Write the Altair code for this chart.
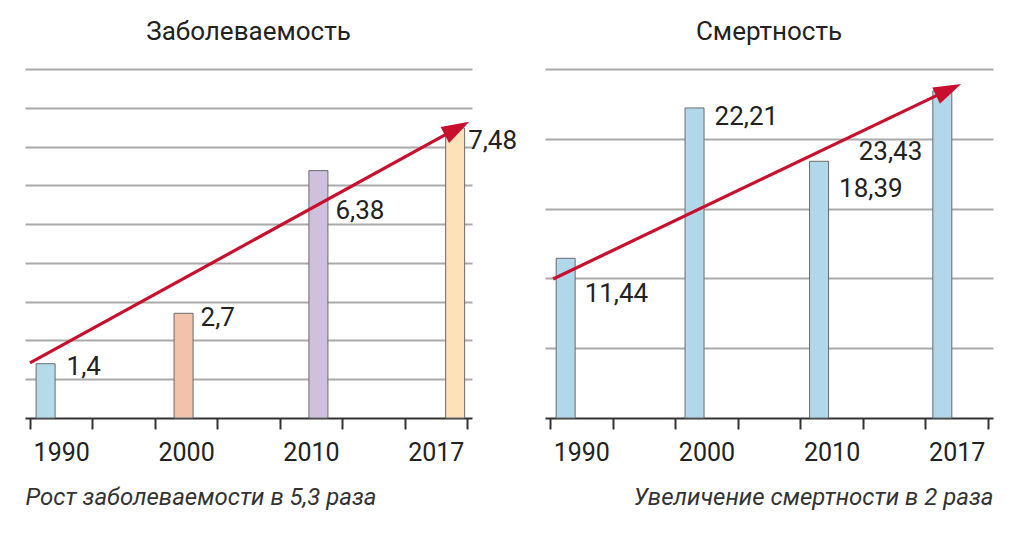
import math

import pandas as pd
import altair as alt

years = ["1990", "2000", "2010", "2017"]

# Заболеваемость
incidence = [1.4, 2.7, 6.38, 7.48]
incidence_slot = [0.25, 2.46, 4.62, 6.81]
incidence_colors = ["#b5dbeb", "#f2c3aa", "#cfc1dd", "#fde1b8"]
incidence_trend_slot = [0.0, 6.83]
incidence_trend = [1.42, 7.46]

# Смертность
mortality = [11.44, 22.21, 18.39, 23.43]
mortality_slot = [0.25, 2.31, 4.30, 6.27]
mortality_colors = ["#b0d8ea", "#b0d8ea", "#b0d8ea", "#b0d8ea"]
mortality_trend_slot = [0.05, 6.36]
mortality_trend = [9.96, 23.49]

FONT = "Roboto"
INK = "#222222"
RED = "#c8102e"
ARROW_HEAD = "M0,-1L0.62,0.9L-0.62,0.9Z"

# label offsets (dx, dy, align) relative to the bar top centre
incidence_label_style = [(21, 3, "left"), (17, 5, "left"), (17, 40, "left"), (13, 13, "left")]
mortality_label_style = [(19, 36, "left"), (20, 9, "left"), (20, 28, "left"), (-20, 61, "right")]


def panel(title, caption, caption_anchor, values, slots, colors,
          trend_x, trend_y, y_max, y_step, label_style, width, height):
    df = pd.DataFrame({
        "year": years,
        "value": values,
        "slot": slots,
        "label": [str(v).replace(".", ",") for v in values],
    })
    trend = pd.DataFrame({"slot": trend_x, "value": trend_y})

    x_scale = alt.Scale(domain=[0, 7], nice=False, zero=False)
    y_scale = alt.Scale(domain=[0, y_max], nice=False)

    tick_values = []
    for i in range(8):
        tick_values.append(i)
        if i % 2 == 0:
            tick_values.append(i + 0.5)
    year_list = ",".join(f"'{y}'" for y in years)

    x_axis = alt.Axis(
        values=tick_values,
        labelExpr=f"datum.value % 1 ? [{year_list}][floor(datum.value / 2)] : ''",
        labelOverlap=False,
        labelFontSize=25, labelColor=INK, labelFont=FONT, labelPadding=11,
        tickSize=11, tickWidth=2, tickColor="#333333",
        tickOpacity={"condition": {"test": "datum.value % 1 != 0", "value": 0}, "value": 1},
        domainColor="#333333", domainWidth=2,
        grid=False,
        title=caption, titleFont=FONT, titleFontSize=24, titleFontStyle="italic",
        titleFontWeight="normal", titleColor="#333333", titleAnchor=caption_anchor,
        titlePadding=20,
    )
    y_axis = alt.Axis(
        values=[y_step * k for k in range(1, int(y_max / y_step) + 1)],
        labels=False, ticks=False, domain=False, title=None,
        grid=True, gridColor="#aaaaaa", gridWidth=2,
    )

    bars = alt.Chart(df).mark_bar(size=19, stroke="#6b6b6b", strokeWidth=1).encode(
        x=alt.X("slot:Q", scale=x_scale, axis=x_axis),
        y=alt.Y("value:Q", scale=y_scale, axis=y_axis),
        color=alt.Color("year:N", scale=alt.Scale(domain=years, range=colors), legend=None),
    )

    labels = []
    for year, (dx, dy, align) in zip(years, label_style):
        labels.append(
            alt.Chart(df).transform_filter(alt.datum.year == year).mark_text(
                font=FONT, fontSize=26, color=INK, align=align, baseline="middle",
                dx=dx, dy=dy,
            ).encode(x="slot:Q", y="value:Q", text="label:N")
        )

    line = alt.Chart(trend).mark_line(color=RED, strokeWidth=3.2).encode(
        x="slot:Q", y="value:Q"
    )
    px_x = width / 7
    px_y = height / y_max
    rise = (trend_y[1] - trend_y[0]) * px_y
    run = (trend_x[1] - trend_x[0]) * px_x
    angle = 90 - math.degrees(math.atan2(rise, run))
    head = alt.Chart(trend.tail(1)).mark_point(
        shape=ARROW_HEAD, filled=True, color=RED, opacity=1, size=850, angle=angle,
    ).encode(x="slot:Q", y="value:Q")

    return alt.layer(bars, *labels, line, head).properties(
        width=width, height=height,
        title=alt.TitleParams(
            title, font=FONT, fontSize=26, fontWeight="normal", color=INK,
            anchor="middle", offset=24,
        ),
    )


left = panel(
    "Заболеваемость", "Рост заболеваемости в 5,3 раза", "start",
    incidence, incidence_slot, incidence_colors,
    incidence_trend_slot, incidence_trend, 9, 1,
    incidence_label_style, 447, 349,
)
right = panel(
    "Смертность", "Увеличение смертности в 2 раза", "end",
    mortality, mortality_slot, mortality_colors,
    mortality_trend_slot, mortality_trend, 25, 5,
    mortality_label_style, 448, 349,
)

chart = alt.hconcat(left, right, spacing=73, bounds="flush").properties(
    padding={"left": 15, "top": 11, "right": 5, "bottom": 5},
    background="white",
).resolve_scale(color="independent").configure_view(stroke=None)

chart.save("out.html", embed_options={"renderer": "svg", "actions": False})
